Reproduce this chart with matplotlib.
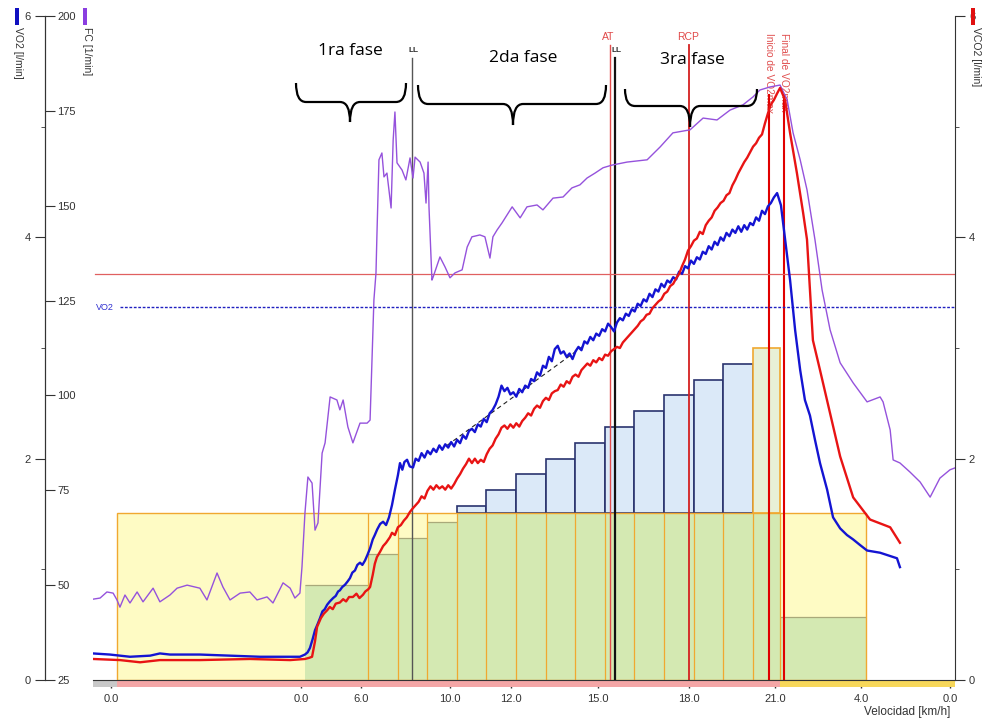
import matplotlib
matplotlib.use('Agg')
import matplotlib.pyplot as plt
from matplotlib.patches import Rectangle, PathPatch
from matplotlib.path import Path
import matplotlib.transforms as mtransforms

# ---------------- data (time in min) ----------------
t_vo2 = [0.00, 0.57, 1.25, 1.93, 2.26, 2.60, 3.61, 4.63, 5.64, 6.66, 6.99,
         7.16, 7.25, 7.33, 7.42, 7.50, 7.58, 7.67, 7.75, 7.83, 7.91, 8.00, 8.11, 8.20, 8.28, 8.34,
         8.42, 8.51, 8.60, 8.68, 8.76, 8.85, 8.93, 9.02, 9.10, 9.19, 9.27, 9.36, 9.45, 9.52,
         9.60, 9.70, 9.80, 9.90, 10.00, 10.10, 10.20, 10.30, 10.37, 10.45, 10.52, 10.61, 10.70, 10.81,
         10.90, 11.00, 11.10, 11.20, 11.30, 11.40, 11.50, 11.60, 11.70, 11.80, 11.90, 12.00, 12.10,
         12.20, 12.30, 12.40, 12.50, 12.60, 12.70, 12.80, 12.90, 13.00, 13.10, 13.20, 13.30, 13.40,
         13.50, 13.60, 13.70, 13.80, 13.90, 14.00, 14.10, 14.20, 14.30, 14.40, 14.50, 14.60, 14.70,
         14.80, 14.90, 15.00, 15.10, 15.20, 15.30, 15.40, 15.50, 15.60, 15.70, 15.80, 15.90, 16.00,
         16.10, 16.20, 16.30, 16.40, 16.50, 16.60, 16.70, 16.80, 16.90, 17.00, 17.10, 17.20, 17.30,
         17.40, 17.50, 17.60, 17.70, 17.80, 17.90, 18.00, 18.10, 18.20, 18.30, 18.40, 18.50, 18.60,
         18.70, 18.80, 18.90, 19.00, 19.10, 19.20, 19.30, 19.40, 19.50, 19.60, 19.70, 19.80, 19.90,
         20.00, 20.10, 20.20, 20.30, 20.40, 20.50, 20.60, 20.70, 20.80, 20.90, 21.00, 21.10, 21.20,
         21.30, 21.40, 21.50, 21.60, 21.70, 21.80, 21.90, 22.00, 22.10, 22.20, 22.30, 22.40, 22.50,
         22.60, 22.70, 22.80, 22.90, 23.00, 23.11,
         23.24, 23.38, 23.55, 23.72, 23.89, 24.05, 24.22, 24.39, 24.56,
         24.80, 25.00, 25.24, 25.47, 25.68, 25.91, 26.15, 26.59, 26.93, 27.16, 27.26]
vo2 = [0.24, 0.23, 0.21, 0.22, 0.24, 0.23, 0.23, 0.22, 0.21, 0.21, 0.21,
       0.23, 0.25, 0.29, 0.37, 0.45, 0.50, 0.56, 0.62, 0.64, 0.68, 0.71, 0.74, 0.76, 0.80, 0.81,
       0.84, 0.86, 0.89, 0.92, 0.97, 0.99, 1.04, 1.06, 1.04, 1.08, 1.13, 1.19, 1.27, 1.31,
       1.36, 1.41, 1.43, 1.40, 1.47, 1.58, 1.72, 1.85, 1.96, 1.90, 1.97, 1.99, 1.93, 1.92,
       2.00, 1.98, 2.05, 2.01, 2.07, 2.04, 2.09, 2.06, 2.12, 2.08, 2.13, 2.10, 2.15,
       2.11, 2.17, 2.14, 2.21, 2.18, 2.25, 2.27, 2.24, 2.31, 2.29, 2.36, 2.33, 2.41,
       2.44, 2.49, 2.56, 2.66, 2.61, 2.64, 2.58, 2.60, 2.56, 2.63, 2.60, 2.66, 2.64,
       2.72, 2.70, 2.78, 2.75, 2.84, 2.82, 2.92, 2.88, 2.99, 3.02, 2.95, 2.97, 2.92,
       2.95, 2.90, 2.97, 3.01, 2.98, 3.06, 3.04, 3.10, 3.07, 3.13, 3.11, 3.17, 3.15,
       3.22, 3.19, 3.15, 3.23, 3.27, 3.25, 3.31, 3.29, 3.35, 3.33, 3.40, 3.38, 3.44,
       3.42, 3.49, 3.46, 3.53, 3.51, 3.58, 3.55, 3.61, 3.59, 3.64, 3.62, 3.69, 3.67,
       3.74, 3.72, 3.79, 3.76, 3.82, 3.80, 3.87, 3.85, 3.92, 3.89, 3.96, 3.93, 4.00,
       3.97, 4.04, 4.01, 4.07, 4.04, 4.10, 4.05, 4.11, 4.07, 4.13, 4.11, 4.18, 4.15,
       4.24, 4.21, 4.28, 4.31, 4.36, 4.40,
       4.29, 3.98, 3.61, 3.16, 2.80, 2.53, 2.39, 2.17, 1.96,
       1.72, 1.47, 1.37, 1.31, 1.27, 1.22, 1.17, 1.15, 1.12, 1.10, 1.02]

t_vco2 = [0.00, 0.91, 1.59, 2.26, 3.61, 5.30, 6.66,
          7.16, 7.30, 7.40, 7.50, 7.57, 7.70, 7.80, 7.91, 8.00, 8.10, 8.20, 8.34, 8.45, 8.55, 8.65,
          8.78, 8.90, 9.00, 9.12, 9.20, 9.30, 9.36, 9.45, 9.52, 9.59, 9.70, 9.80, 9.90, 10.03, 10.10,
          10.20, 10.30, 10.40, 10.50, 10.60, 10.71, 10.80, 10.90, 11.00, 11.10, 11.20, 11.30, 11.40,
          11.50, 11.60, 11.70, 11.80, 11.90, 12.00, 12.10, 12.20, 12.30, 12.40, 12.50, 12.60, 12.70,
          12.80, 12.90, 13.00, 13.10, 13.20, 13.30, 13.40, 13.50, 13.60, 13.70, 13.80, 13.90, 14.00,
          14.10, 14.20, 14.30, 14.40, 14.50, 14.60, 14.70, 14.80, 14.90, 15.00, 15.10, 15.20, 15.30,
          15.40, 15.50, 15.60, 15.70, 15.80, 15.90, 16.00, 16.10, 16.20, 16.30, 16.40, 16.50, 16.60,
          16.70, 16.80, 16.90, 17.00, 17.10, 17.20, 17.30, 17.40, 17.50, 17.60, 17.70, 17.80, 17.90,
          18.00, 18.10, 18.20, 18.30, 18.40, 18.50, 18.60, 18.70, 18.80, 18.90, 19.00, 19.10, 19.20,
          19.30, 19.40, 19.50, 19.60, 19.70, 19.80, 19.90, 20.00, 20.10, 20.20, 20.30, 20.40, 20.50,
          20.60, 20.70, 20.80, 20.90, 21.00, 21.10, 21.20, 21.30, 21.40, 21.50, 21.60, 21.70, 21.80,
          21.90, 22.00, 22.10, 22.20, 22.30, 22.40, 22.50, 22.60, 22.70, 22.80, 22.90, 23.00, 23.11,
          23.21, 23.38, 23.55, 23.78, 23.99, 24.12,
          24.22, 24.32, 24.56, 24.90, 25.24, 25.68, 26.25, 26.93, 27.26]
vco2 = [0.19, 0.18, 0.16, 0.18, 0.18, 0.19, 0.18,
        0.19, 0.20, 0.21, 0.35, 0.48, 0.56, 0.60, 0.63, 0.66, 0.64, 0.69, 0.70, 0.73, 0.71, 0.75,
        0.75, 0.78, 0.74, 0.77, 0.80, 0.82, 0.84, 0.95, 1.05, 1.11, 1.16, 1.21, 1.24, 1.29, 1.33,
        1.31, 1.38, 1.40, 1.44, 1.47, 1.52, 1.55, 1.58, 1.61, 1.66, 1.64, 1.71, 1.75,
        1.72, 1.76, 1.73, 1.75, 1.72, 1.76, 1.73, 1.77, 1.82, 1.86, 1.91, 1.95, 2.00,
        1.96, 2.00, 1.96, 1.99, 1.97, 2.04, 2.09, 2.12, 2.18, 2.22, 2.28, 2.30, 2.27,
        2.31, 2.28, 2.32, 2.29, 2.34, 2.37, 2.41, 2.39, 2.45, 2.48, 2.46, 2.52, 2.55,
        2.53, 2.59, 2.61, 2.62, 2.67, 2.65, 2.70, 2.68, 2.74, 2.76, 2.74, 2.80, 2.83,
        2.86, 2.84, 2.89, 2.87, 2.91, 2.89, 2.94, 2.93, 2.97, 2.99, 3.01, 3.00, 3.05,
        3.08, 3.11, 3.14, 3.17, 3.20, 3.24, 3.26, 3.30, 3.31, 3.36, 3.39, 3.42, 3.44,
        3.49, 3.51, 3.56, 3.58, 3.63, 3.67, 3.74, 3.80, 3.88, 3.92, 3.97, 3.99, 4.05,
        4.03, 4.11, 4.15, 4.18, 4.24, 4.27, 4.31, 4.33, 4.38, 4.40, 4.47, 4.52, 4.58,
        4.63, 4.68, 4.72, 4.77, 4.82, 4.85, 4.90, 4.93, 5.03, 5.12, 5.20, 5.24, 5.30,
        5.35, 5.24, 4.94, 4.58, 4.22, 3.98,
        3.52, 3.07, 2.80, 2.41, 2.02, 1.65, 1.45, 1.38, 1.24]

t_fc = [0.00, 0.24, 0.47, 0.68, 0.81, 0.91, 1.08, 1.25, 1.49, 1.69, 2.03, 2.26, 2.60, 2.84, 3.18,
        3.61, 3.85, 4.19, 4.39, 4.63, 4.97, 5.30, 5.54, 5.88, 6.08, 6.42, 6.66, 6.82, 6.99, 7.06,
        7.16, 7.26, 7.40, 7.50, 7.60, 7.74, 7.84, 8.01, 8.24, 8.34, 8.45, 8.61, 8.78, 9.02, 9.26,
        9.36, 9.46, 9.49, 9.56, 9.59, 9.66, 9.76, 9.83, 9.93, 10.07, 10.14, 10.20, 10.27, 10.44,
        10.57, 10.71, 10.81, 10.88, 11.05, 11.18, 11.25, 11.32, 11.35, 11.45, 11.49, 11.72, 11.89,
        12.06, 12.23, 12.47, 12.64, 12.80, 13.07, 13.24, 13.41, 13.51, 13.65, 13.82, 14.16, 14.43,
        14.66, 15.00, 15.20, 15.54, 15.88, 16.18, 16.45, 16.69, 16.96, 17.23, 17.53, 18.04, 18.72,
        19.16, 19.59, 20.17, 20.61, 21.08, 21.52, 21.96, 22.30, 22.53, 22.87, 23.21, 23.45, 23.65,
        23.89, 24.12, 24.39, 24.63, 24.90, 25.24, 25.68, 26.15, 26.59, 26.69, 26.93, 27.03, 27.26,
        27.60, 27.94, 28.28, 28.61, 28.95, 29.12]
fc = [46.3, 46.6, 48.2, 47.9, 46.1, 44.2, 47.4, 45.3, 48.2, 45.6, 49.2, 45.6, 47.4, 49.2, 50.0,
      49.2, 46.1, 53.2, 49.5, 46.1, 47.9, 48.2, 46.1, 46.9, 45.3, 50.6, 49.2, 46.6, 47.9, 54.8,
      69.0, 78.5, 76.9, 64.5, 66.4, 84.8, 87.5, 99.6, 98.8, 96.2, 98.8, 91.7, 87.5, 92.7, 92.7,
      93.5, 117.3, 125.2, 132.3, 141.8, 162.1, 163.9, 157.6, 158.6, 149.4, 167.3, 174.7, 161.3, 159.4,
      156.8, 162.6, 157.3, 162.8, 161.5, 158.6, 150.7, 161.5, 149.7, 130.4, 131.2, 136.5, 133.9,
      131.0, 132.3, 133.1, 139.1, 141.8, 142.3, 141.8, 136.2, 141.8, 143.6, 145.5, 149.7, 146.8,
      149.7, 150.2, 148.9, 152.0, 152.3, 154.7, 155.5, 157.3, 158.6, 160.0, 160.7, 161.5, 162.1,
      165.5, 169.2, 170.0, 173.1, 172.6, 175.2, 176.6, 178.7, 180.5, 181.3, 181.8, 177.9, 169.2,
      162.1, 154.2, 141.0, 127.8, 117.3, 108.6, 103.3, 98.3, 99.6, 98.3, 90.9, 83.0, 82.2,
      79.8, 77.2, 73.2, 78.2, 80.4, 80.9]

reg_t = [11.96, 16.52]
reg_vo2 = [2.12, 3.01]

stage_start = [7.16, 9.29, 10.29, 11.29, 12.29, 13.29, 14.29, 15.29, 16.29, 17.29, 18.29, 19.29,
               20.29, 21.29, 22.29, 23.21]
stage_end = [9.29, 10.29, 11.29, 12.29, 13.29, 14.29, 15.29, 16.29, 17.29, 18.29, 19.29, 20.29,
             21.29, 22.29, 23.21, 26.11]
stage_speed = [6, 8, 9, 10, 11, 12, 13, 14, 15, 16, 17, 18, 19, 20, 21, 4]
peak_stage = [False] * 14 + [True, False]
band_start, band_end, band_level = 0.81, 26.11, 10.56

event_names = ['LL', 'AT', 'LL', 'RCP']
event_times = [10.78, 17.47, 17.64, 20.14]
vmax_names = ['Inicio de VO2max', 'Final de VO2max']
vmax_times = [22.84, 23.34]

vo2_level = 3.37
ref_level = 3.67

tick_pos = [0.61, 7.03, 9.05, 12.06, 14.12, 17.06, 20.14, 23.04, 25.95, 28.95]
tick_labels = ['0.0', '0.0', '6.0', '10.0', '12.0', '15.0', '18.0', '21.0', '4.0', '0.0']

strip_edges = [0.0, 0.81, 23.21, 29.12]
strip_colors = ['#c8c8c8', '#f4a6a6', '#f7d75a']

phase_names = ['1ra fase', '2da fase', '3ra fase']

# ---------------- style ----------------
W, H = 987, 720
AX_L, AX_R, AX_T, AX_B = 93, 955, 16, 680
C_VO2 = '#1414d2'
C_VCO2 = '#e81414'
C_FC = '#9552dc'
GREEN = '#d4e9b2'
YELLOW = '#fefbc4'
LBLUE = '#dbe9f8'
PALE = '#e8f0d6'
NAVY = '#2a336e'
ORANGE = '#f0a830'
TXT = '#333333'
plt.rcParams['font.family'] = ['Liberation Sans', 'DejaVu Sans']

fig = plt.figure(figsize=(W / 100, H / 100), dpi=100)
fig.patch.set_facecolor('white')
ax = fig.add_axes([AX_L / W, (H - AX_B) / H, (AX_R - AX_L) / W, (AX_B - AX_T) / H])
ax.set_xlim(0, 29.12)
ax.set_ylim(0, 42)
for s in ['top', 'left', 'right']:
    ax.spines[s].set_visible(False)
ax.spines['bottom'].set_color(TXT)
ax.spines['bottom'].set_zorder(6)
ax.set_yticks([])
ax.set_xticks(tick_pos)
ax.set_xticklabels(tick_labels)
ax.tick_params(axis='x', direction='out', length=6, colors=TXT, labelsize=8, pad=4, width=1)

# background band
ax.add_patch(Rectangle((band_start, 0), band_end - band_start, band_level,
                       facecolor=YELLOW, edgecolor='none', zorder=1))
for x0, x1, s, pk in zip(stage_start, stage_end, stage_speed, peak_stage):
    h = min(s, band_level)
    ax.bar(x0, h, width=x1 - x0, align='edge', color=GREEN, linewidth=0, zorder=2)
    if s > band_level:
        ax.bar(x0, s - band_level, bottom=band_level, width=x1 - x0, align='edge',
               color=PALE if pk else LBLUE, edgecolor=ORANGE if pk else NAVY,
               linewidth=1.2, zorder=2)
    else:
        ax.hlines(s, x0, x1, color='#a9a97a', lw=0.9, zorder=3)
ax.vlines(stage_start[1:], 0, band_level, color=ORANGE, lw=0.9, zorder=3)
ax.add_patch(Rectangle((band_start, 0), band_end - band_start, band_level,
                       facecolor='none', edgecolor=ORANGE, lw=1.0, zorder=3))

# bottom strip
btr = mtransforms.blended_transform_factory(ax.transData, ax.transAxes)
for x0, x1, c in zip(strip_edges[:-1], strip_edges[1:], strip_colors):
    ax.add_patch(Rectangle((x0, -0.0105), x1 - x0, 0.009, transform=btr,
                           facecolor=c, edgecolor='none', clip_on=False, zorder=5))

# event lines
ev_style = [dict(color='#555555', lw=1.0), dict(color='#e24b4b', lw=1.0),
            dict(color='#111111', lw=1.6), dict(color='#d42020', lw=1.3)]
for name, t, st in zip(event_names, event_times, ev_style):
    top = (AX_B - 58) / (AX_B - AX_T) if name == 'LL' else (AX_B - 45) / (AX_B - AX_T)
    ax.axvline(t, 0, top, zorder=4, **st)
    if name == 'LL':
        ax.text(t + 0.05, (AX_B - 51) / (AX_B - AX_T), name, transform=btr, ha='center',
                va='center', fontsize=6, color=TXT, fontweight='bold')
    else:
        ax.text(t - 0.05, (AX_B - 37) / (AX_B - AX_T), name, transform=btr, ha='center',
                va='center', fontsize=7.5, color='#e04848')
for name, t in zip(vmax_names, vmax_times):
    ax.axvline(t, 0, (AX_B - 95) / (AX_B - AX_T), color='#e00000', lw=1.5, zorder=4)
    ax.text(t, (AX_B - 33) / (AX_B - AX_T), name, transform=btr, ha='center', va='top',
            rotation=270, fontsize=7.3, color='#e05050')

# VO2 axis (left)
ax_vo2 = ax.twinx()
ax_vo2.set_ylim(0, 6)
ax_vo2.yaxis.tick_left()
for s in ['top', 'bottom', 'right']:
    ax_vo2.spines[s].set_visible(False)
ax_vo2.spines['left'].set_position(('outward', 48 * 0.72))
ax_vo2.spines['left'].set_color(TXT)
ax_vo2.set_yticks([0, 2, 4, 6])
ax_vo2.set_yticks([1, 3, 5], minor=True)
ax_vo2.tick_params(axis='y', which='major', direction='out', length=7, colors=TXT, labelsize=8, pad=3)
ax_vo2.tick_params(axis='y', which='minor', direction='out', length=3, colors=TXT)

ax_vo2.axhline(ref_level, 0.002, 1, color='#e06060', lw=0.9, zorder=1)
ax_vo2.axhline(vo2_level, (120 - AX_L) / (AX_R - AX_L), 1, color='#2020c0', lw=1.0,
               ls=(0, (2, 1.2)), zorder=1)
ax_vo2.text(0.1, vo2_level, 'VO2', color='#3030d0', fontsize=6.5, va='center', ha='left')
ax_vo2.plot(reg_t, reg_vo2, color='#222222', lw=0.8, ls=(0, (4, 3)), zorder=2)
ax_vo2.plot(t_vo2, vo2, color=C_VO2, lw=1.7, zorder=3)

# FC axis (left, inner side)
ax_fc = ax.twinx()
ax_fc.set_ylim(25, 200)
for s in ['top', 'bottom', 'left']:
    ax_fc.spines[s].set_visible(False)
ax_fc.spines['right'].set_position(('axes', -48 / (AX_R - AX_L)))
ax_fc.spines['right'].set_color(TXT)
ax_fc.set_yticks([25, 50, 75, 100, 125, 150, 175, 200])
ax_fc.tick_params(axis='y', direction='out', length=7, colors=TXT, labelsize=8, pad=2)
ax_fc.plot(t_fc, fc, color=C_FC, lw=1.0, zorder=3)

# VCO2 axis (right)
ax_vco2 = ax.twinx()
ax_vco2.set_ylim(0, 6)
for s in ['top', 'bottom', 'left']:
    ax_vco2.spines[s].set_visible(False)
ax_vco2.spines['right'].set_color(TXT)
ax_vco2.set_yticks([0, 2, 4, 6])
ax_vco2.set_yticks([1, 3, 5], minor=True)
ax_vco2.tick_params(axis='y', which='major', direction='out', length=7, colors=TXT, labelsize=8, pad=3)
ax_vco2.tick_params(axis='y', which='minor', direction='out', length=3, colors=TXT)
ax_vco2.plot(t_vco2, vco2, color=C_VCO2, lw=1.7, zorder=3)

# axis titles
def fx(px):
    return px / W

def fy(py):
    return 1 - py / H

fig.add_artist(Rectangle((fx(15), fy(25)), 4 / W, 17 / H, transform=fig.transFigure,
                         facecolor='#1010c0', edgecolor='none'))
fig.text(fx(18), fy(27), 'VO2 [l/min]', rotation=270, ha='center', va='top', fontsize=7.5, color=TXT)
fig.add_artist(Rectangle((fx(83), fy(25)), 4 / W, 17 / H, transform=fig.transFigure,
                         facecolor='#8a3ee0', edgecolor='none'))
fig.text(fx(87), fy(27), 'FC [1/min]', rotation=270, ha='center', va='top', fontsize=7.5, color=TXT)
fig.add_artist(Rectangle((fx(971), fy(25)), 4 / W, 17 / H, transform=fig.transFigure,
                         facecolor='#e01010', edgecolor='none'))
fig.text(fx(976), fy(27), 'VCO2 [l/min]', rotation=270, ha='center', va='top', fontsize=7.5, color=TXT)
fig.text(fx(950), fy(712), 'Velocidad [km/h]', ha='right', va='center', fontsize=8.5, color=TXT)

# phase annotations
phase_pos = [(350, 51), (523, 58), (692, 60)]
for name, (px, py) in zip(phase_names, phase_pos):
    fig.text(fx(px), fy(py), name, ha='center', va='center', fontsize=12.5,
             family=['Open Sans', 'DejaVu Sans'], color='black')

def brace(xl, xr, xm, yend, yflat, ytip, r=10):
    verts = [(xl, yend), (xl, yflat), (xl + r, yflat),
             (xm - r, yflat),
             (xm, yflat), (xm, ytip),
             (xm, yflat), (xm + r, yflat),
             (xr - r, yflat),
             (xr, yflat), (xr, yend)]
    codes = [Path.MOVETO, Path.CURVE3, Path.CURVE3, Path.LINETO, Path.CURVE3, Path.CURVE3,
             Path.CURVE3, Path.CURVE3, Path.LINETO, Path.CURVE3, Path.CURVE3]
    verts = [(fx(a), fy(b)) for a, b in verts]
    fig.add_artist(PathPatch(Path(verts, codes), transform=fig.transFigure, facecolor='none',
                             edgecolor='black', lw=1.6))

brace(296, 406, 350, 83, 102, 122)
brace(418, 606, 513, 85, 104, 125)
brace(625, 757, 690, 89, 106, 127)

fig.savefig('out.png', dpi=100)
